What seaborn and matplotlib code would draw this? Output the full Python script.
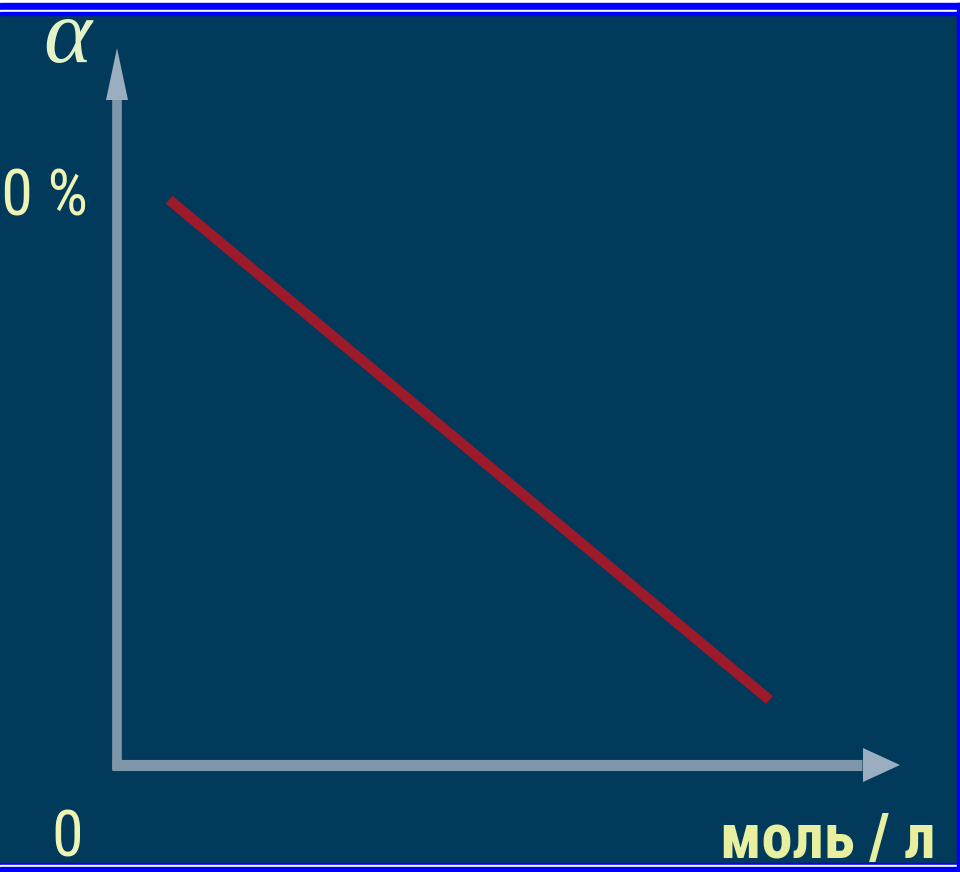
import matplotlib
matplotlib.use("Agg")
import matplotlib.pyplot as plt
import matplotlib.transforms as mtransforms
import seaborn as sns
import pandas as pd
from matplotlib.patches import Rectangle, Polygon

# values
conc = [0.08, 1.0]          # моль / л
alpha_pct = [100, 11.5]     # degree of dissociation, %
ytick_vals = [100]
ytick_labels = ["100 %"]

sns.set_style("white")
plt.rcParams["font.family"] = ["Roboto Condensed", "Liberation Sans", "DejaVu Sans"]

bg = "#023a5b"
W, H = 960, 872
fig = plt.figure(figsize=(W / 100, H / 100), dpi=100, facecolor="white")

# frame: navy panel with blue/white bands
def band(x0, y0, x1, y1, color):
    fig.patches.append(Rectangle((x0 / W, 1 - y1 / H), (x1 - x0) / W, (y1 - y0) / H,
                                 transform=fig.transFigure, color=color, zorder=-10))

band(0, 15, 957, 863, bg)
band(0, 3, W, 10, "#0000ff")
band(0, 10, W, 12, "white")
band(0, 12, W, 15, "#0000ff")
band(0, 863, W, 865, "#0000ff")
band(0, 865, W, 867, "white")
band(0, 867, W, H, "#0000ff")
band(957, 3, W, H, "#0000ff")

ox, oy = 117, 765
aw, ah = 900 - ox, oy - 50
ax = fig.add_axes([ox / W, 1 - oy / H, aw / W, ah / H])
ax.set_facecolor("none")
ax.patch.set_alpha(0)
for s in ax.spines.values():
    s.set_visible(False)

df = pd.DataFrame({"c": conc, "a": alpha_pct})
sns.lineplot(data=df, x="c", y="a", ax=ax, color="#9c1a2a", linewidth=7.5,
             solid_capstyle="butt", zorder=3)
ax.set_xlim(0, 1.2)
ax.set_ylim(0, 126.5)
ax.set_xlabel("")
ax.set_ylabel("")

# axes drawn as arrows (shaft + head)
shaft = "#7f95aa"
head = "#9aaec0"
ax.plot([0, 0], [-5 / ah, (765 - 98) / ah], transform=ax.transAxes, color=shaft,
        lw=7, solid_capstyle="butt", clip_on=False, zorder=2)
ax.plot([-5 / aw, (862 - ox) / aw], [0, 0], transform=ax.transAxes, color=shaft,
        lw=8, solid_capstyle="butt", clip_on=False, zorder=2)
ax.add_patch(Polygon([(-11 / aw, (765 - 100) / ah), (0, (765 - 48) / ah),
                      (11 / aw, (765 - 100) / ah)], closed=True, transform=ax.transAxes,
                     color=head, lw=0, clip_on=False, zorder=2))
ax.add_patch(Polygon([((863 - ox) / aw, 17 / ah), (1, 0), ((863 - ox) / aw, -17 / ah)],
                     closed=True, transform=ax.transAxes, color=head, lw=0,
                     clip_on=False, zorder=2))

txt = "#eef4b4"
ax.set_xticks([])
ax.set_yticks(ytick_vals)
ax.set_yticklabels(ytick_labels, fontsize=46, color=txt)
ax.tick_params(axis="y", length=0, pad=21)
up = mtransforms.ScaledTranslation(0, 9 / 100, fig.dpi_scale_trans)
for lab in ax.get_yticklabels():
    lab.set_transform(lab.get_transform() + up)

ax.text(-50 / aw, -73 / ah, "0", transform=ax.transAxes, ha="center", va="center",
        fontsize=46, color=txt)
ax.text(1 + 36 / aw, -93 / ah, "моль / л", transform=ax.transAxes, ha="right",
        va="baseline", fontsize=45, fontweight="bold", color="#e8f0a0")
fig.text(67 / W, 1 - 40 / H, "α", ha="center", va="center", fontsize=66,
         family=["Liberation Serif", "DejaVu Serif"], style="italic", color="#e4f2c8")

fig.savefig("out.png", dpi=100, facecolor=fig.get_facecolor())
